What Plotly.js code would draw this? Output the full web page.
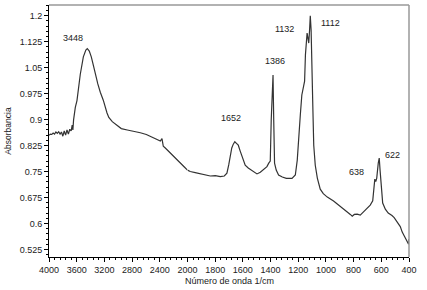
<!DOCTYPE html>
<html>
<head>
<meta charset="utf-8">
<script src="https://cdn.plot.ly/plotly-3.0.1.min.js"></script>
<style>html,body{margin:0;padding:0;background:#fff;}#chart{width:427px;height:290px;}</style>
</head>
<body>
<div id="chart"></div>
<script>
// Wavenumber (1/cm) and absorbance
const wavenumber = [4000,3980,3960,3940,3920,3900,3880,3860,3840,3820,3800,3780,3760,3740,3720,3700,3680,3665,3655,
  3645,3620,3596,3548,3504,3468,3447,3418,3389,3360,3331,3295,3259,3216,3162,3136,3086,3028,2956,2869,2782,2681,2594,2512,2450,2392,2368,2349,2320,2277,2219,2151,2103,2045,2000,
  1980,1944,1908,1871,1835,1799,1763,1734,1715,1702,1691,1680,1669,1658,1648,1633,1619,1604,1583,1561,1532,1498,1474,1453,1426,1413,1402,1395,1382,1377,1371,1359,1342,1315,1286,1245,1221,1207,1198,1185,1174,1164,1154,1148,1141,1136,1129,1124,1118,1113,1107,1101,1094,1088,1077,1062,1041,1019,990,945,918,896,867,846,824,810,795,774,752,730,708,680,662,654,647,640,633,622,615,609,602,590,571,550,523,507,485,463,449,434,420,409,403,400];
const absorbance = [0.855,0.858,0.857,0.861,0.858,0.864,0.860,0.865,0.858,0.864,0.852,0.867,0.855,0.870,0.858,0.872,0.867,0.884,0.870,
  0.899,0.935,0.955,1.031,1.081,1.101,1.105,1.098,1.081,1.057,1.030,1.003,0.979,0.956,0.919,0.906,0.894,0.884,0.874,0.870,0.867,0.862,0.857,0.850,0.844,0.838,0.845,0.823,0.818,0.809,0.797,0.784,0.774,0.763,0.754,
  0.750,0.747,0.744,0.741,0.737,0.738,0.735,0.737,0.745,0.769,0.795,0.818,0.829,0.836,0.832,0.826,0.809,0.789,0.768,0.760,0.751,0.743,0.748,0.756,0.764,0.774,0.780,0.899,1.029,0.899,0.774,0.754,0.740,0.734,0.730,0.730,0.740,0.783,0.826,0.913,0.971,0.997,1.011,1.087,1.141,1.150,1.133,1.121,1.159,1.200,1.159,1.005,0.927,0.826,0.768,0.731,0.699,0.686,0.676,0.665,0.656,0.647,0.639,0.633,0.626,0.621,0.626,0.627,0.624,0.633,0.643,0.653,0.665,0.696,0.728,0.721,0.731,0.774,0.789,0.754,0.705,0.659,0.641,0.630,0.623,0.617,0.604,0.591,0.575,0.563,0.552,0.543,0.540,0.555];

const peakLabels = ['3448','1652','1386','1132','1112','638','622'];
const peakLabelX = [3649,1684,1366,1299,968,781,521];
const peakLabelY = [1.135,0.904,1.069,1.162,1.179,0.748,0.797];

const xTicksHigh = [4000,3600,3200,2800,2400,2000];
const xTicksLow = [1800,1600,1400,1200,1000,800,600,400];
const yTickVals = [0.525,0.6,0.675,0.75,0.825,0.9,0.975,1.05,1.125,1.2];
const yTickText = ['0.525','0.6','0.675','0.75','0.825','0.9','0.975','1.05','1.125','1.2'];

const hiX=[],hiY=[],loX=[],loY=[];
wavenumber.forEach((w,i)=>{ if(w>=2000){hiX.push(w);hiY.push(absorbance[i]);} if(w<=2000){loX.push(w);loY.push(absorbance[i]);} });

const lineStyle = {color:'#333333', width:1.2};
const traces = [
  {x:hiX, y:hiY, type:'scatter', mode:'lines', line:lineStyle, xaxis:'x', yaxis:'y', hoverinfo:'skip'},
  {x:loX, y:loY, type:'scatter', mode:'lines', line:lineStyle, xaxis:'x2', yaxis:'y', hoverinfo:'skip'}
];

const font = {family:'Liberation Sans, Arial, sans-serif', size:9, color:'#222'};
const axisCommon = {showline:true, linecolor:'#000', linewidth:1, ticks:'outside', ticklen:4, tickcolor:'#000', tickwidth:1,
  showgrid:false, zeroline:false, tickfont:font};

const annotations = peakLabels.map((t,i)=>({text:t, x:peakLabelX[i], y:peakLabelY[i], xref: peakLabelX[i]>2000?'x':'x2', yref:'y',
  showarrow:false, font:font, xanchor:'center', yanchor:'middle'}));

const layout = {
  width:427, height:290,
  margin:{l:48.7, r:18.3, t:5, b:33},
  paper_bgcolor:'#fff', plot_bgcolor:'#fff',
  showlegend:false,
  font:font,
  xaxis: Object.assign({}, axisCommon, {domain:[0,5/13], range:[4000,2000], anchor:'y',
    tickmode:'array', tickvals:xTicksHigh,
    minor:{tickmode:'linear', tick0:0, dtick:80, ticklen:2, ticks:'outside', tickcolor:'#000'}}),
  xaxis2: Object.assign({}, axisCommon, {domain:[5/13,1], range:[2000,400], anchor:'y',
    tickmode:'array', tickvals:xTicksLow,
    minor:{tickmode:'linear', tick0:0, dtick:40, ticklen:2, ticks:'outside', tickcolor:'#000'}}),
  yaxis: Object.assign({}, axisCommon, {range:[0.503,1.231], anchor:'x',
    tickmode:'array', tickvals:yTickVals, ticktext:yTickText,
    minor:{tickmode:'linear', tick0:0.525, dtick:0.015, ticklen:2, ticks:'outside', tickcolor:'#000'},
    title:{text:'Absorbancia', font:{family:font.family, size:8.5, color:'#222'}, standoff:6}}),
  annotations: annotations.concat([
    {text:'Número de onda 1/cm', xref:'paper', yref:'paper', x:0.5, y:-0.095, xanchor:'center', yanchor:'middle', showarrow:false, font:font}
  ]),
  shapes:[
    {type:'line', xref:'paper', yref:'paper', x0:0, x1:1, y0:1, y1:1, line:{color:'#999', width:1.5}},
    {type:'line', xref:'paper', yref:'paper', x0:1, x1:1, y0:0, y1:1, line:{color:'#999', width:1.5}}
  ]
};

Plotly.newPlot('chart', traces, layout, {staticPlot:true, displayModeBar:false});
</script>
</body>
</html>
